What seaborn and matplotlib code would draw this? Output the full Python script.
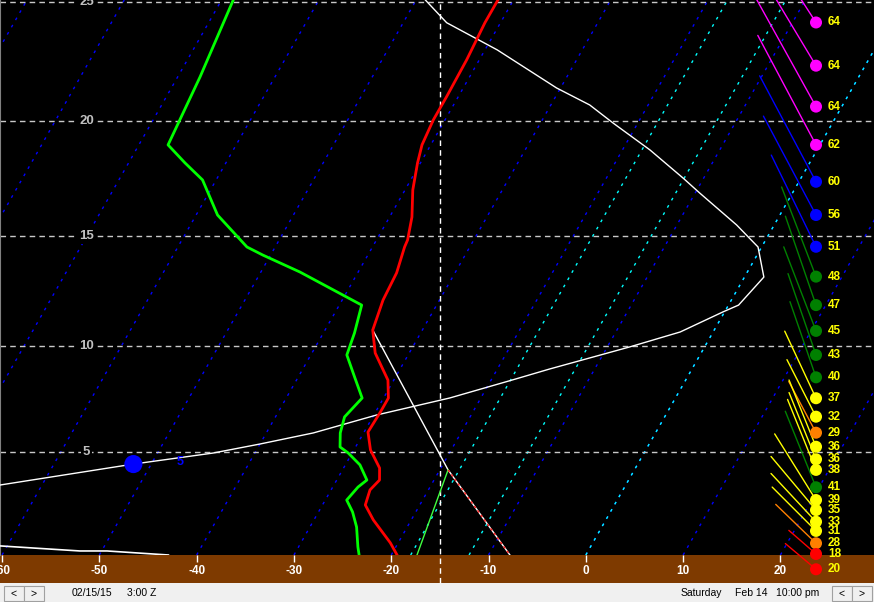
import numpy as np
import pandas as pd
import matplotlib
matplotlib.use("Agg")
import matplotlib.pyplot as plt
from matplotlib.patches import Rectangle
import seaborn as sns

# ---------------- data ----------------
# temperature profile (altitude kft, deg C)
temp_alt = [0.00, 0.60, 1.73, 2.46, 3.19, 3.67, 4.25, 5.12, 5.97, 6.92, 7.58, 8.42, 9.68,
            10.74, 12.11, 13.34, 14.50, 14.81, 15.83, 17.02, 18.20, 18.98, 20.05, 21.03,
            22.60, 24.14, 25.08]
temp_c = [-19.4, -20.8, -23.9, -25.6, -26.0, -25.6, -26.3, -28.3, -29.6, -29.5, -29.5, -30.6,
          -33.5, -35.1, -35.8, -36.0, -36.7, -36.8, -37.7, -39.2, -40.3, -40.9, -41.2, -41.2,
          -41.3, -41.6, -41.6]
# dewpoint profile
dew_alt = [0.00, 0.40, 1.38, 2.12, 2.70, 3.33, 3.67, 4.40, 4.97, 5.26, 5.93, 6.69, 7.58, 8.56,
           9.59, 10.60, 11.88, 13.38, 14.14, 14.50, 15.92, 17.46, 18.20, 18.98, 21.88, 25.08]
dew_c = [-23.3, -23.9, -25.2, -26.5, -27.8, -27.4, -26.9, -28.5, -30.4, -31.6, -32.4, -32.9,
         -32.2, -34.2, -36.3, -36.8, -37.7, -46.0, -50.8, -52.9, -57.8, -61.4, -64.2, -67.0,
         -67.7, -68.8]
# white index profile (plotted on the unskewed x scale)
curve_alt = [25.08, 24.14, 23.01, 21.41, 20.69, 19.92, 18.76, 17.54, 16.89, 15.48, 14.50, 13.15,
             11.88, 11.57, 10.65, 9.96, 8.94, 8.42, 7.58, 6.78, 5.93, 5.40, 4.97, 4.44, 3.43]
curve_x = [-16.5, -14.3, -9.1, -3.0, 0.4, 2.8, 6.6, 10.0, 11.7, 15.5, 17.7, 18.3, 15.7, 14.1,
           9.7, 4.5, -3.7, -7.6, -14.0, -21.5, -28.0, -33.5, -38.3, -46.5, -60.2]
marker_alt, marker_x, marker_label = 4.44, -46.5, "5"
# lower-left white trace
low_alt = [0.45, 0.20, 0.20, 0.00]
low_x = [-60.2, -52.0, -49.2, -42.9]
# descending parcel path
parcel_alt = [10.74, 4.16, 0.00]
parcel_c = [-35.1, -19.15, -7.8]
parcel_td_alt = [4.16, 0.00]
parcel_td_c = [-19.15, -17.35]

# winds
wind_alt = [24.15, 22.35, 20.62, 18.98, 17.38, 15.92, 14.51, 13.17, 11.88, 10.70, 9.59, 8.55,
            7.57, 6.70, 5.94, 5.27, 4.67, 4.16, 3.32, 2.70, 2.21, 1.64, 1.19, 0.58, 0.05, -0.71]
wind_spd = [64, 64, 64, 62, 60, 56, 51, 48, 47, 45, 43, 40, 37, 32, 29, 36, 36, 38, 41, 39, 35,
            33, 31, 28, 18, 20]
wind_dir = [327, 329, 331, 332, 332, 332, 334, 339, 341, 339, 341, 341, 335, 333, 332, 338, 338,
            338, 338, 328, 320, 317, 315, 314, 311, 310]

# axes
xtick_vals = [-60, -50, -40, -30, -20, -10, 0, 10, 20]
alt_grid = [5, 10, 15, 20, 25]
iso_blue = [-90, -80, -70, -60, -50, -40, -30, -20, -10, 0, 10, 20]
iso_cyan = [-18, -12, 0]
dgz_line = -15

# ---------------- helpers ----------------
K_SKEW = 32.74

def lnp(h):
    h = np.asarray(h, dtype=float)
    return -5.25588 * np.log(1 - 6.8756e-3 * h)

def inv_lnp(Y):
    Y = np.asarray(Y, dtype=float)
    return (1 - np.exp(-Y / 5.25588)) / 6.8756e-3

def skew(T, h):
    return np.asarray(T, dtype=float) + K_SKEW * lnp(h)

def spd_cat(s):
    if s > 60:
        return "m"
    if s >= 50:
        return "b"
    if s >= 40:
        return "g"
    if s >= 30:
        return "y"
    if s > 20:
        return "o"
    return "r"

dot_pal = {"m": "#FF00FF", "b": "#0000FF", "g": "#008000", "y": "#FFFF00",
           "o": "#FF8000", "r": "#FF0000"}

W, H = 874, 602
def fx(px):
    return px / W
def fy(py):
    return 1 - py / H

fig = plt.figure(figsize=(8.74, 6.02), dpi=100, facecolor="black")
ax = fig.add_axes([0, fy(555), 1, 555 / H])
ax.set_facecolor("black")
ax.set_yscale("function", functions=(lnp, inv_lnp))
h_top = float(inv_lnp(555 / 558))
h_band = float(inv_lnp(-28 / 558))
ax.set_ylim(0, h_top)
ax.set_xlim(-60.21, 29.62)

# brown ground band and status bar
fig.add_artist(Rectangle((0, fy(583)), 1, 28 / H, transform=fig.transFigure,
                         facecolor="#7E3A00", edgecolor="none", zorder=-5))
fig.add_artist(Rectangle((0, 0), 1, 19 / H, transform=fig.transFigure,
                         facecolor="#F0F0F0", edgecolor="none", zorder=-5))

# isotherms
hh = np.array([0.0, h_top])
for T in iso_blue:
    ax.plot(skew([T, T], hh), hh, color="#0000FF", lw=1, ls=(0, (2, 4)), zorder=1)
for T in iso_cyan:
    ax.plot(skew([T, T], hh), hh, color="#00FFFF", lw=1, ls=(0, (2, 4)), zorder=1.2)

# horizontal grid + labels
for a in alt_grid:
    ax.axhline(a, color="#C8C8C8", lw=1, ls=(0, (4, 3)), zorder=1.5)
    ax.text(-51.3, a, str(a), color="#C0C0C0", fontsize=9.5, fontweight="bold",
            family="Liberation Sans", ha="center", va="center", zorder=1.6,
            bbox=dict(facecolor="black", edgecolor="none", pad=1.5), clip_on=True)

# vertical dashed line
ax.plot([dgz_line, dgz_line], [h_band, h_top], color="white", lw=1, ls=(0, (4, 3)),
        clip_on=False, zorder=2)

# white traces
sns.lineplot(x=curve_x, y=curve_alt, sort=False, estimator=None, color="white", lw=1,
             ax=ax, zorder=3)
sns.lineplot(x=low_x, y=low_alt, sort=False, estimator=None, color="white", lw=1.2,
             ax=ax, zorder=3)
ax.scatter([marker_x], [marker_alt], s=170, color="#0000FF", zorder=3.5, edgecolors="none")
ax.text(-41.7, 4.54, marker_label, color="#0000FF", fontsize=9, fontweight="bold",
        family="Liberation Sans", ha="center", va="center", zorder=3.5)

# parcel path
px_ = skew(parcel_c, parcel_alt)
ax.plot(px_[:2], parcel_alt[:2], color="white", lw=1, zorder=3)
ax.plot(px_[1:], parcel_alt[1:], color="white", lw=1, zorder=3)
ax.plot(px_[1:], parcel_alt[1:], color="#FF2020", lw=1, ls=(0, (2, 2)), zorder=3.1)
ax.plot(skew(parcel_td_c, parcel_td_alt), parcel_td_alt, color="#40FF40", lw=1, zorder=3)

# temperature / dewpoint
sns.lineplot(x=skew(dew_c, dew_alt), y=dew_alt, sort=False, estimator=None,
             color="#00FF00", lw=2, ax=ax, zorder=4)
sns.lineplot(x=skew(temp_c, temp_alt), y=temp_alt, sort=False, estimator=None,
             color="#FF0000", lw=2, ax=ax, zorder=4)

# winds
dot_x = 23.66
lab_x = 24.89
wdf = pd.DataFrame({"alt": wind_alt, "spd": wind_spd, "dir": wind_dir})
wdf["cat"] = [spd_cat(s) for s in wdf["spd"]]
wdf["x"] = dot_x
for _, r in wdf.iterrows():
    th = np.deg2rad(360 - r["dir"])
    L = 2.0 * r["spd"]
    ax.annotate("", xy=(dot_x, r["alt"]), xycoords="data",
                xytext=(-L * np.sin(th), L * np.cos(th)), textcoords="offset pixels",
                arrowprops=dict(arrowstyle="-", color=dot_pal[r["cat"]], lw=1,
                                shrinkA=0, shrinkB=0),
                annotation_clip=False, zorder=5)
sns.scatterplot(data=wdf, x="x", y="alt", hue="cat", palette=dot_pal, s=75,
                edgecolor="none", legend=False, ax=ax, zorder=6, clip_on=False)
for _, r in wdf.iterrows():
    ax.text(lab_x, r["alt"], str(r["spd"]), color="#FFFF00", fontsize=8.5,
            fontweight="bold", family="Liberation Sans", ha="left", va="center",
            clip_on=False, zorder=6)

# axes decoration
ax.set_xlabel("")
ax.set_ylabel("")
ax.set_xticks(xtick_vals)
ax.set_xticklabels([str(v) for v in xtick_vals])
ax.set_yticks([])
ax.tick_params(axis="x", colors="white", direction="out", length=5, width=1, pad=2,
               labelsize=8.5)
for lbl in ax.get_xticklabels():
    lbl.set_fontweight("bold")
    lbl.set_family("Liberation Sans")
for s in ["top", "right", "bottom"]:
    ax.spines[s].set_visible(False)
ax.spines["left"].set_color("#808080")
ax.set_xlim(-60.21, 29.62)
ax.set_ylim(0, h_top)

# status bar widgets
def button(x0, x1, label):
    fig.add_artist(Rectangle((fx(x0), fy(601)), fx(x1 - x0), 15 / H, transform=fig.transFigure,
                             facecolor="#F0F0F0", edgecolor="#A0A0A0", lw=0.8, zorder=-4))
    fig.text(fx((x0 + x1) / 2), fy(593.5), label, fontsize=7.5, family="Liberation Sans",
             ha="center", va="center", color="black")

button(4, 24, "<")
button(24, 44, ">")
button(832, 852, "<")
button(852, 872, ">")
st = dict(fontsize=7.5, family="Liberation Sans", va="center", ha="left", color="black")
fig.text(fx(72), fy(593.5), "02/15/15", **st)
fig.text(fx(127), fy(593.5), "3:00 Z", **st)
fig.text(fx(681), fy(593.5), "Saturday", **st)
fig.text(fx(735), fy(593.5), "Feb 14", **st)
fig.text(fx(776), fy(593.5), "10:00 pm", **st)

fig.savefig("out.png", dpi=100, facecolor=fig.get_facecolor())
